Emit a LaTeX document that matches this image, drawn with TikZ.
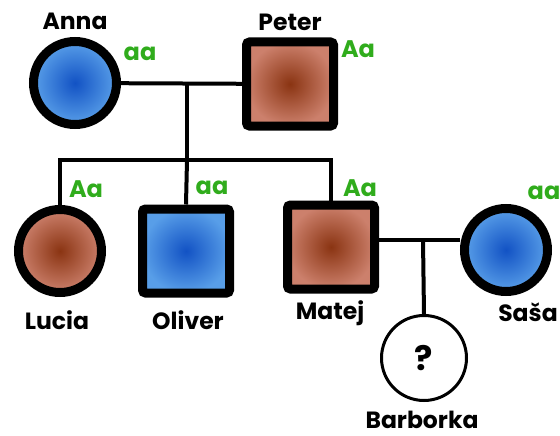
\documentclass[tikz,border=0pt]{standalone}
\usepackage{fontspec}
\setmainfont{Poppins}[BoldFont={Poppins Bold}]
\usepackage{tikz}
\definecolor{genocol}{RGB}{48,172,28}
\definecolor{bluein}{RGB}{18,82,196}
\definecolor{blueout}{RGB}{88,158,232}
\definecolor{brownin}{RGB}{138,52,18}
\definecolor{brownout}{RGB}{204,128,108}

\begin{document}
\begin{tikzpicture}[x=1pt,y=-1pt,
		female/.style={circle,draw=black,line width=9pt,minimum size=83pt,inner sep=0pt},
		male/.style={rectangle,rounded corners=3pt,draw=black,line width=9pt,minimum width=87pt,minimum height=84pt,inner sep=0pt},
		healthy/.style={inner color=bluein,outer color=blueout},
		carrier/.style={inner color=brownin,outer color=brownout},
		pname/.style={font=\fontsize{23.5}{25}\selectfont\bfseries},
		geno/.style={font=\fontsize{24}{26}\selectfont\bfseries,text=genocol},
		link/.style={line width=4pt}]
	\useasboundingbox (0,0) rectangle (560,436);
	\node (anna) [female,healthy] at (75,83) {};
	\node (peter) [male,carrier] at (290,84) {};
	\node (lucia) [female,carrier] at (60,251) {};
	\node (oliver) [male,healthy] at (186,251) {};
	\node (matej) [male,carrier] at (331,247) {};
	\node (sasa) [female,healthy] at (506,250) {};
	\node (barborka) [circle,draw=black,line width=3pt,minimum size=85pt,inner sep=0pt,
		font=\fontsize{34}{36}\selectfont\bfseries] at (424,358) {?};
	\coordinate (ap) at (187,83);
	\coordinate (sib) at (187,160);
	\coordinate (ms) at (423,240);
	\draw[link] (anna) -- (peter);
	\draw[link] (ap) -- (sib);
	\draw[link] (lucia.north) |- (sib) -| (matej.north);
	\draw[link] (sib) -- (oliver.north);
	\draw[link] (matej.east |- ms) -- (sasa.west |- ms);
	\draw[link] (ms) -- (barborka.north);
	\node (nanna) [pname] at (75,21) {Anna};
	\node (npeter) [pname] at (290,22) {Peter};
	\node (nlucia) [pname] at (57,320) {Lucia};
	\node (noliver) [pname] at (188,320) {Oliver};
	\node (nmatej) [pname] at (330,313) {Matej};
	\node (nsasa) [pname] at (528,312) {Saša};
	\node (nbarborka) [pname] at (422,420) {Barborka};
	\node (ganna) [geno] at (140,54) {aa};
	\node (gpeter) [geno] at (358,49) {Aa};
	\node (glucia) [geno] at (86,189) {Aa};
	\node (goliver) [geno] at (212,188) {aa};
	\node (gmatej) [geno] at (360,188) {Aa};
	\node (gsasa) [geno] at (544,193) {aa};
\end{tikzpicture}
\end{document}
